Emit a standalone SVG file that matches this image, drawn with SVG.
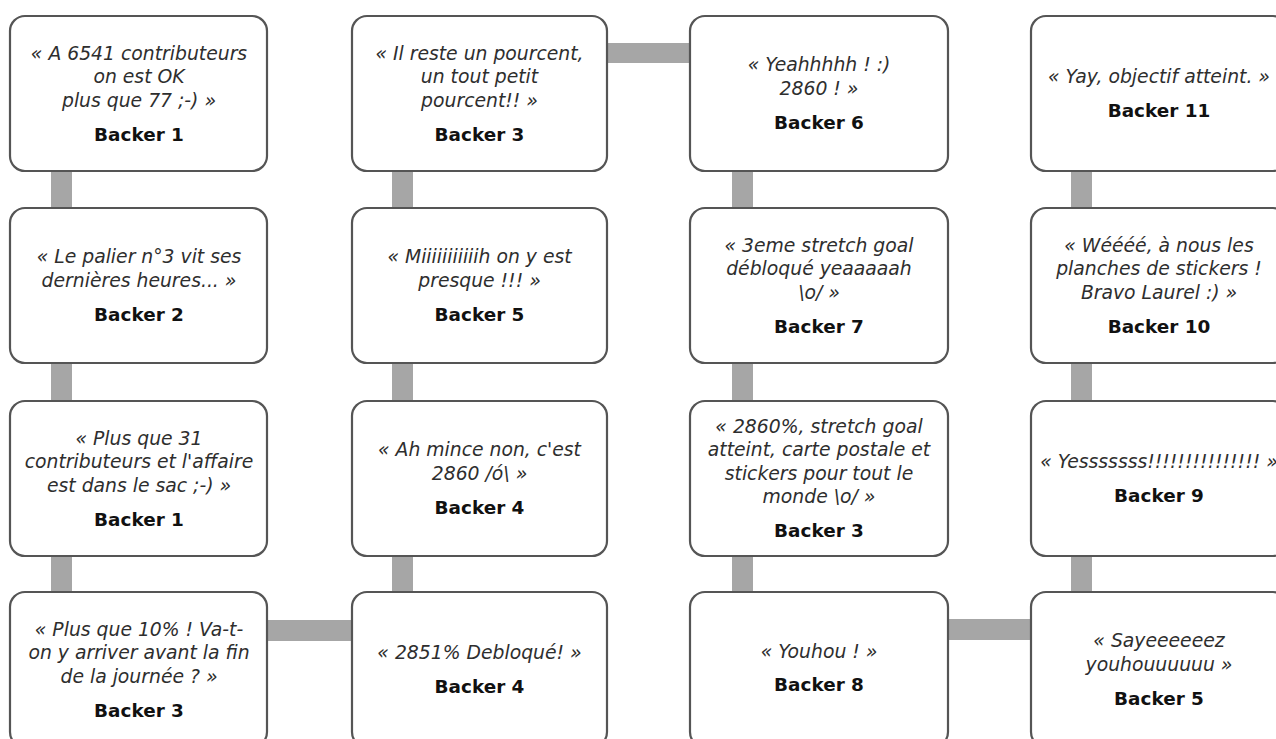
<svg xmlns="http://www.w3.org/2000/svg" width="1276" height="739" viewBox="0 0 1276 739">
<style>
.box{fill:#ffffff;stroke:#555555;stroke-width:2.2}
.c{fill:#a6a6a6}
text{font-family:"DejaVu Sans","Liberation Sans",sans-serif;font-size:18px;text-anchor:middle}
.q{font-style:italic;fill:#2e2e2e;font-size:18.8px}
.b{font-weight:bold;fill:#111111;font-size:18.4px}
</style>
<rect width="1276" height="739" fill="#ffffff"/>
<g id="connectors">
<rect class="c" x="51" y="165" width="21" height="48"/>
<rect class="c" x="51" y="358" width="21" height="48"/>
<rect class="c" x="51" y="550" width="21" height="47"/>
<rect class="c" x="392" y="165" width="21" height="48"/>
<rect class="c" x="392" y="358" width="21" height="48"/>
<rect class="c" x="392" y="550" width="21" height="47"/>
<rect class="c" x="732" y="165" width="21" height="48"/>
<rect class="c" x="732" y="358" width="21" height="48"/>
<rect class="c" x="732" y="550" width="21" height="47"/>
<rect class="c" x="1071" y="165" width="21" height="48"/>
<rect class="c" x="1071" y="358" width="21" height="48"/>
<rect class="c" x="1071" y="550" width="21" height="47"/>
<rect class="c" x="602" y="43" width="93" height="20"/>
<rect class="c" x="262" y="620" width="95" height="21"/>
<rect class="c" x="943" y="619" width="93" height="21"/>
</g>
<g id="n1">
<rect class="box" x="10" y="16" width="257" height="155" rx="15"/>
<text class="q" x="139" y="59.5">« A 6541 contributeurs</text>
<text class="q" x="139" y="83">on est OK</text>
<text class="q" x="139" y="106.5">plus que 77 ;-)  »</text>
<text class="b" x="139" y="140.5">Backer 1</text>
</g>
<g id="n2">
<rect class="box" x="10" y="208" width="257" height="155" rx="15"/>
<text class="q" x="139" y="263">« Le palier n°3 vit ses</text>
<text class="q" x="139" y="286.5">dernières heures... »</text>
<text class="b" x="139" y="320.5">Backer 2</text>
</g>
<g id="n3">
<rect class="box" x="10" y="401" width="257" height="155" rx="15"/>
<text class="q" x="139" y="444.5">« Plus que 31</text>
<text class="q" x="139" y="468">contributeurs et l'affaire</text>
<text class="q" x="139" y="491.5">est dans le sac ;-) »</text>
<text class="b" x="139" y="525.5">Backer 1</text>
</g>
<g id="n4">
<rect class="box" x="10" y="592" width="257" height="155" rx="15"/>
<text class="q" x="139" y="635.5">« Plus que 10% ! Va-t-</text>
<text class="q" x="139" y="659">on y arriver avant la fin</text>
<text class="q" x="139" y="682.5">de la journée ? »</text>
<text class="b" x="139" y="716.5">Backer 3</text>
</g>
<g id="n5">
<rect class="box" x="352" y="592" width="255" height="155" rx="15"/>
<text class="q" x="479.5" y="659">« 2851% Debloqué! »</text>
<text class="b" x="479.5" y="693">Backer 4</text>
</g>
<g id="n6">
<rect class="box" x="352" y="401" width="255" height="155" rx="15"/>
<text class="q" x="479.5" y="456.25">« Ah mince non, c'est</text>
<text class="q" x="479.5" y="479.75">2860 /ó\ »</text>
<text class="b" x="479.5" y="513.75">Backer 4</text>
</g>
<g id="n7">
<rect class="box" x="352" y="208" width="255" height="155" rx="15"/>
<text class="q" x="479.5" y="263">« Miiiiiiiiiiih  on y est</text>
<text class="q" x="479.5" y="286.5">presque !!! »</text>
<text class="b" x="479.5" y="320.5">Backer 5</text>
</g>
<g id="n8">
<rect class="box" x="352" y="16" width="255" height="155" rx="15"/>
<text class="q" x="479.5" y="59.5">« Il reste un pourcent,</text>
<text class="q" x="479.5" y="83">un tout petit</text>
<text class="q" x="479.5" y="106.5">pourcent!! »</text>
<text class="b" x="479.5" y="140.5">Backer 3</text>
</g>
<g id="n9">
<rect class="box" x="690" y="16" width="258" height="155" rx="15"/>
<text class="q" x="819" y="71.25">« Yeahhhhh ! :)</text>
<text class="q" x="819" y="94.75">2860 ! »</text>
<text class="b" x="819" y="128.75">Backer 6</text>
</g>
<g id="n10">
<rect class="box" x="690" y="208" width="258" height="155" rx="15"/>
<text class="q" x="819" y="251.5">« 3eme stretch goal</text>
<text class="q" x="819" y="275">débloqué yeaaaaah</text>
<text class="q" x="819" y="298.5">\o/ »</text>
<text class="b" x="819" y="332.5">Backer 7</text>
</g>
<g id="n11">
<rect class="box" x="690" y="401" width="258" height="155" rx="15"/>
<text class="q" x="819" y="432.75">« 2860%, stretch goal</text>
<text class="q" x="819" y="456.25">atteint, carte postale et</text>
<text class="q" x="819" y="479.75">stickers pour tout le</text>
<text class="q" x="819" y="503.25">monde \o/ »</text>
<text class="b" x="819" y="537.25">Backer 3</text>
</g>
<g id="n12">
<rect class="box" x="690" y="592" width="258" height="155" rx="15"/>
<text class="q" x="819" y="658">« Youhou ! »</text>
<text class="b" x="819" y="691">Backer 8</text>
</g>
<g id="n13">
<rect class="box" x="1031" y="592" width="257" height="155" rx="15"/>
<text class="q" x="1159" y="647.25">« Sayeeeeeez</text>
<text class="q" x="1159" y="670.75">youhouuuuuu »</text>
<text class="b" x="1159" y="704.75">Backer 5</text>
</g>
<g id="n14">
<rect class="box" x="1031" y="401" width="257" height="155" rx="15"/>
<text class="q" x="1159" y="468">« Yesssssss!!!!!!!!!!!!!!!  »</text>
<text class="b" x="1159" y="502">Backer 9</text>
</g>
<g id="n15">
<rect class="box" x="1031" y="208" width="257" height="155" rx="15"/>
<text class="q" x="1159" y="251.5">« Wéééé, à nous les</text>
<text class="q" x="1159" y="275">planches de stickers !</text>
<text class="q" x="1159" y="298.5">Bravo Laurel :) »</text>
<text class="b" x="1159" y="332.5">Backer 10</text>
</g>
<g id="n16">
<rect class="box" x="1031" y="16" width="257" height="155" rx="15"/>
<text class="q" x="1159" y="83">« Yay, objectif atteint. »</text>
<text class="b" x="1159" y="117">Backer 11</text>
</g>
</svg>
